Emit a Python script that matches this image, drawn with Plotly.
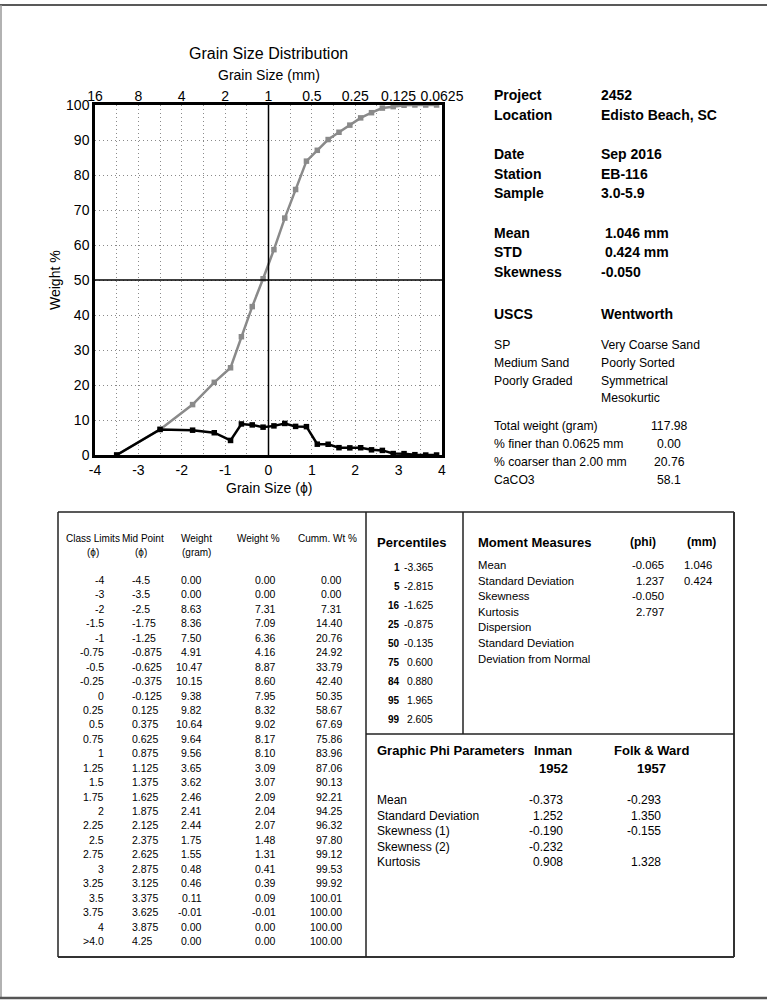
import plotly.graph_objects as go

W, H = 767, 1003

# ---------------- data ----------------
class_limits = ["-4", "-3", "-2", "-1.5", "-1", "-0.75", "-0.5", "-0.25", "0", "0.25", "0.5", "0.75", "1",
                "1.25", "1.5", "1.75", "2", "2.25", "2.5", "2.75", "3", "3.25", "3.5", "3.75", "4", ">4.0"]
mid_points = [-4.5, -3.5, -2.5, -1.75, -1.25, -0.875, -0.625, -0.375, -0.125, 0.125, 0.375, 0.625, 0.875,
              1.125, 1.375, 1.625, 1.875, 2.125, 2.375, 2.625, 2.875, 3.125, 3.375, 3.625, 3.875, 4.25]
weights_g = [0.00, 0.00, 8.63, 8.36, 7.50, 4.91, 10.47, 10.15, 9.38, 9.82, 10.64, 9.64, 9.56,
             3.65, 3.62, 2.46, 2.41, 2.44, 1.75, 1.55, 0.48, 0.46, 0.11, -0.01, 0.00, 0.00]
weight_pct = [0.00, 0.00, 7.31, 7.09, 6.36, 4.16, 8.87, 8.60, 7.95, 8.32, 9.02, 8.17, 8.10,
              3.09, 3.07, 2.09, 2.04, 2.07, 1.48, 1.31, 0.41, 0.39, 0.09, -0.01, 0.00, 0.00]
cumm_pct = [0.00, 0.00, 7.31, 14.40, 20.76, 24.92, 33.79, 42.40, 50.35, 58.67, 67.69, 75.86, 83.96,
            87.06, 90.13, 92.21, 94.25, 96.32, 97.80, 99.12, 99.53, 99.92, 100.01, 100.00, 100.00, 100.00]

phi_ticks = [-4, -3, -2, -1, 0, 1, 2, 3, 4]
mm_ticks = ["16", "8", "4", "2", "1", "0.5", "0.25", "0.125", "0.0625"]

info_rows = [("Project", "2452"), ("Location", "Edisto Beach, SC"), None,
             ("Date", "Sep 2016"), ("Station", "EB-116"), ("Sample", "3.0-5.9"), None,
             ("Mean", " 1.046 mm"), ("STD", " 0.424 mm"), ("Skewness", "-0.050")]
uscs_lines = ["SP", "Medium Sand", "Poorly Graded"]
wentworth_lines = ["Very Coarse Sand", "Poorly Sorted", "Symmetrical", "Mesokurtic"]
summary_labels = ["Total weight (gram)", "% finer than 0.0625 mm", "% coarser than 2.00 mm", "CaCO3"]
summary_values = ["117.98", "0.00", "20.76", "58.1"]

pct_levels = ["1", "5", "16", "25", "50", "75", "84", "95", "99"]
pct_values = ["-3.365", "-2.815", "-1.625", "-0.875", "-0.135", "0.600", "0.880", "1.965", "2.605"]

moment_labels = ["Mean", "Standard Deviation", "Skewness", "Kurtosis", "Dispersion",
                 "Standard Deviation", "Deviation from Normal"]
moment_phi = ["-0.065", "1.237", "-0.050", "2.797", "", "", ""]
moment_mm = ["1.046", "0.424", "", "", "", "", ""]

graphic_labels = ["Mean", "Standard Deviation", "Skewness (1)", "Skewness (2)", "Kurtosis"]
inman_vals = ["-0.373", "1.252", "-0.190", "-0.232", "0.908"]
folk_vals = ["-0.293", "1.350", "-0.155", "", "1.328"]

# ---------------- helpers ----------------
SANS = "Liberation Sans, Arial, sans-serif"

annotations = []
shapes = []


def txt(x, y, s, size=12, bold=False, anchor="left", angle=0):
    annotations.append(dict(
        xref="paper", yref="paper", x=x / W, y=1 - y / H,
        text=("<b>%s</b>" % s) if bold else s, showarrow=False,
        xanchor=anchor, yanchor="middle", textangle=angle,
        font=dict(family=SANS, size=size, color="black"), borderpad=0))


def line(x0, y0, x1, y1, color="black", width=1.5):
    shapes.append(dict(type="line", xref="paper", yref="paper",
                       x0=x0 / W, y0=1 - y0 / H, x1=x1 / W, y1=1 - y1 / H,
                       line=dict(color=color, width=width)))


# ---------------- chart ----------------
PL, PR, PT, PB = 95, 442, 105, 455

in_range = [i for i, m in enumerate(mid_points) if -4 <= m <= 4]
xs = [mid_points[i] for i in in_range]

fig = go.Figure()
fig.add_trace(go.Scatter(x=xs, y=[cumm_pct[i] for i in in_range], mode="lines+markers",
                         line=dict(color="#8a8a8a", width=2.5),
                         marker=dict(symbol="square", size=5.5, color="#8a8a8a"),
                         hoverinfo="skip", showlegend=False))
fig.add_trace(go.Scatter(x=xs, y=[weight_pct[i] for i in in_range], mode="lines+markers",
                         line=dict(color="black", width=2.5),
                         marker=dict(symbol="square", size=5.5, color="black"),
                         hoverinfo="skip", showlegend=False))
fig.add_trace(go.Scatter(x=[phi_ticks[0], phi_ticks[-1]], y=[None, None], xaxis="x2", yaxis="y",
                         mode="lines", hoverinfo="skip", showlegend=False))

grid_vals = [v / 2 for v in range(-8, 9)]
grid_text = [str(int(v)) if v == int(v) else "" for v in grid_vals]
GRID_DASH = "1px,3px"

fig.update_layout(
    template="none",
    width=W, height=H, autosize=False,
    margin=dict(l=0, r=0, t=0, b=0, pad=0, autoexpand=False),
    paper_bgcolor="white", plot_bgcolor="white",
    font=dict(family=SANS, size=13, color="black"),
    xaxis=dict(domain=[PL / W, PR / W], range=[-4, 4], tickvals=grid_vals, ticktext=grid_text,
               showgrid=True, gridcolor="#8a8a8a", griddash=GRID_DASH, gridwidth=1,
               showline=True, linecolor="black", linewidth=2.5, mirror=True, automargin=False,
               zeroline=False, ticks="", tickfont=dict(size=14), fixedrange=True),
    xaxis2=dict(overlaying="x", side="top", range=[-4, 4], tickvals=phi_ticks, ticktext=mm_ticks,
                showgrid=False, zeroline=False, ticks="", tickfont=dict(size=14), showline=False,
                automargin=False, fixedrange=True),
    yaxis=dict(domain=[1 - PB / H, 1 - PT / H], range=[0, 100], dtick=10,
               showgrid=True, gridcolor="#8a8a8a", griddash=GRID_DASH, gridwidth=1,
               showline=True, linecolor="black", linewidth=2.5, mirror=True, automargin=False,
               zeroline=False, ticks="", tickfont=dict(size=14), fixedrange=True),
)

# reference lines at phi 0 and 50 %
shapes.append(dict(type="line", xref="x", yref="y", x0=0, x1=0, y0=0, y1=100,
                   line=dict(color="black", width=1.5), layer="above"))
shapes.append(dict(type="line", xref="x", yref="y", x0=-4, x1=4, y0=50, y1=50,
                   line=dict(color="black", width=1.5), layer="above"))

cx = (PL + PR) / 2
txt(cx, 54, "Grain Size Distribution", 16, anchor="center")
txt(cx, 75, "Grain Size (mm)", 14, anchor="center")
txt(cx, 488, "Grain Size (ϕ)", 14, anchor="center")
txt(55, 280, "Weight %", 14, anchor="center", angle=-90)

# ---------------- right info panel ----------------
LX, VX = 493, 600
y = 95
for row in info_rows:
    if row is None:
        y += 20
        continue
    txt(LX, y, row[0], 14, bold=True)
    txt(VX, y, row[1], 14, bold=True)
    y += 19.5

txt(LX, 314, "USCS", 14, bold=True)
txt(VX, 314, "Wentworth", 14, bold=True)
for i, s in enumerate(uscs_lines):
    txt(LX, 345 + i * 17.8, s, 12.2)
for i, s in enumerate(wentworth_lines):
    txt(VX, 345 + i * 17.8, s, 12.2)
for i, (lab, val) in enumerate(zip(summary_labels, summary_values)):
    txt(LX, 426 + i * 18, lab, 12.2)
    txt(669, 426 + i * 18, val, 12.2, anchor="center")

# ---------------- table frames ----------------
BL, BR, BT, BB = 58, 734, 512, 957
line(BL, BT, BR, BT, "#222", 1.5)
line(BL, BB, BR, BB, "#333", 2)
line(BL, BT, BL, BB, "#222", 1.5)
line(BR, BT, BR, BB, "#333", 2)
line(366, BT, 366, BB, "#222", 1.5)
line(463, BT, 463, 734, "#222", 1.5)
line(366, 734, BR, 734, "#222", 1.5)

# page frame
line(0, 5, W, 5, "#222", 1.5)
line(1, 5, 1, 998, "#999", 1.5)
line(0, 998, W, 998, "#555", 2.5)

# ---------------- size table ----------------
TF = 10
TV = 10.5
txt(93, 538, "Class Limits", TF, anchor="center")
txt(93, 552, "(ϕ)", TF, anchor="center")
txt(143, 538, "Mid Point", TF, anchor="center")
txt(141, 552, "(ϕ)", TF, anchor="center")
txt(196, 538, "Weight", TF, anchor="center")
txt(196, 552, "(gram)", TF, anchor="center")
txt(258, 538, "Weight %", TF, anchor="center")
txt(327, 538, "Cumm. Wt %", TF, anchor="center")

for i in range(len(class_limits)):
    yy = 580 + i * 14.44
    txt(105, yy, class_limits[i], TV, anchor="right")
    txt(131, yy, str(mid_points[i]), TV, anchor="left")
    txt(203, yy, "%.2f" % weights_g[i], TV, anchor="right")
    txt(277, yy, "%.2f" % weight_pct[i], TV, anchor="right")
    txt(343, yy, "%.2f" % cumm_pct[i], TV, anchor="right")

# ---------------- percentiles ----------------
txt(376, 542, "Percentiles", 13, bold=True)
for i, (lv, val) in enumerate(zip(pct_levels, pct_values)):
    yy = 567 + i * 19
    txt(401, yy, lv, 10, bold=True, anchor="right")
    txt(434, yy, val, 10.3, anchor="right")

# ---------------- moment measures ----------------
txt(477, 542, "Moment Measures", 13, bold=True)
txt(643, 542, "(phi)", 12, bold=True, anchor="center")
txt(701, 542, "(mm)", 12, bold=True, anchor="center")
for i, lab in enumerate(moment_labels):
    yy = 565 + i * 15.6
    txt(477, yy, lab, 11.3)
    if moment_phi[i]:
        txt(665, yy, moment_phi[i], 11.3, anchor="right")
    if moment_mm[i]:
        txt(713, yy, moment_mm[i], 11.3, anchor="right")

# ---------------- graphic phi parameters ----------------
txt(376, 750, "Graphic Phi Parameters", 13, bold=True)
txt(553, 750, "Inman", 13, bold=True, anchor="center")
txt(553, 768, "1952", 13, bold=True, anchor="center")
txt(651, 750, "Folk &amp; Ward", 13, bold=True, anchor="center")
txt(651, 768, "1957", 13, bold=True, anchor="center")
for i, lab in enumerate(graphic_labels):
    yy = 800 + i * 15.6
    txt(376, yy, lab, 12)
    txt(564, yy, inman_vals[i], 12, anchor="right")
    if folk_vals[i]:
        txt(662, yy, folk_vals[i], 12, anchor="right")

fig.update_layout(annotations=annotations, shapes=shapes)
fig.write_html("out.html", config={"displayModeBar": False},
               post_script="document.body.style.margin='0';document.body.style.overflow='hidden';")
